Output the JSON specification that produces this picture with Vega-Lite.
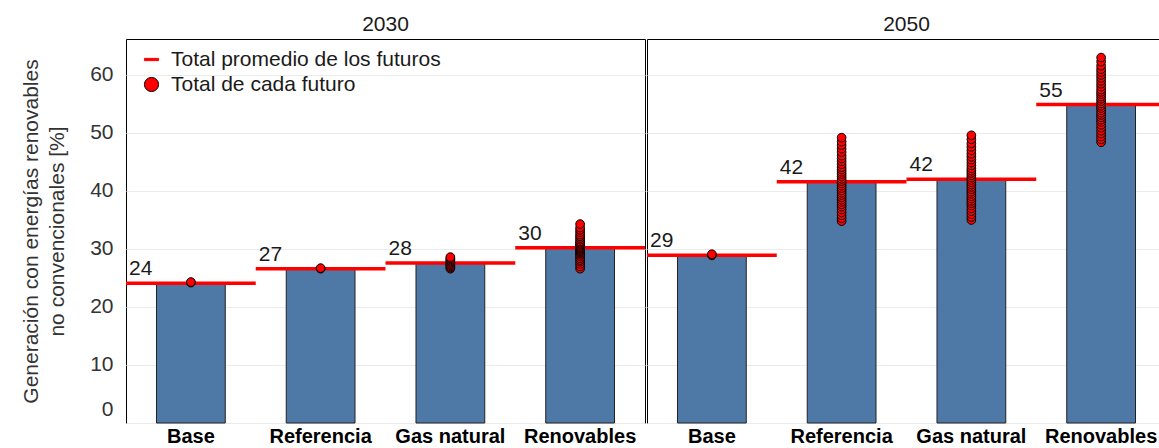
{
  "$schema": "https://vega.github.io/schema/vega-lite/v6.json",
  "padding": {"left": 20, "top": 14, "right": -6, "bottom": 0},
  "background": "white",
  "data": {"values": [
    {"anio": "2030", "escenario": "Base", "tipo": "Total promedio de los futuros", "valor": 24.1},
    {"anio": "2030", "escenario": "Referencia", "tipo": "Total promedio de los futuros", "valor": 26.6},
    {"anio": "2030", "escenario": "Gas natural", "tipo": "Total promedio de los futuros", "valor": 27.6},
    {"anio": "2030", "escenario": "Renovables", "tipo": "Total promedio de los futuros", "valor": 30.2},
    {"anio": "2050", "escenario": "Base", "tipo": "Total promedio de los futuros", "valor": 28.9},
    {"anio": "2050", "escenario": "Referencia", "tipo": "Total promedio de los futuros", "valor": 41.6},
    {"anio": "2050", "escenario": "Gas natural", "tipo": "Total promedio de los futuros", "valor": 42.0},
    {"anio": "2050", "escenario": "Renovables", "tipo": "Total promedio de los futuros", "valor": 54.9},

    {"anio": "2030", "escenario": "Base", "tipo": "Total de cada futuro", "valor": 24.2},
    {"anio": "2030", "escenario": "Base", "tipo": "Total de cada futuro", "valor": 24.3},
    {"anio": "2030", "escenario": "Referencia", "tipo": "Total de cada futuro", "valor": 26.6},
    {"anio": "2030", "escenario": "Referencia", "tipo": "Total de cada futuro", "valor": 26.7},
    {"anio": "2030", "escenario": "Gas natural", "tipo": "Total de cada futuro", "valor": 26.6},
    {"anio": "2030", "escenario": "Gas natural", "tipo": "Total de cada futuro", "valor": 26.8},
    {"anio": "2030", "escenario": "Gas natural", "tipo": "Total de cada futuro", "valor": 27.0},
    {"anio": "2030", "escenario": "Gas natural", "tipo": "Total de cada futuro", "valor": 27.2},
    {"anio": "2030", "escenario": "Gas natural", "tipo": "Total de cada futuro", "valor": 27.4},
    {"anio": "2030", "escenario": "Gas natural", "tipo": "Total de cada futuro", "valor": 27.6},
    {"anio": "2030", "escenario": "Gas natural", "tipo": "Total de cada futuro", "valor": 27.8},
    {"anio": "2030", "escenario": "Gas natural", "tipo": "Total de cada futuro", "valor": 28.0},
    {"anio": "2030", "escenario": "Gas natural", "tipo": "Total de cada futuro", "valor": 28.2},
    {"anio": "2030", "escenario": "Gas natural", "tipo": "Total de cada futuro", "valor": 28.4},
    {"anio": "2030", "escenario": "Gas natural", "tipo": "Total de cada futuro", "valor": 28.6},
    {"anio": "2030", "escenario": "Renovables", "tipo": "Total de cada futuro", "valor": 26.6},
    {"anio": "2030", "escenario": "Renovables", "tipo": "Total de cada futuro", "valor": 27.0},
    {"anio": "2030", "escenario": "Renovables", "tipo": "Total de cada futuro", "valor": 27.4},
    {"anio": "2030", "escenario": "Renovables", "tipo": "Total de cada futuro", "valor": 27.8},
    {"anio": "2030", "escenario": "Renovables", "tipo": "Total de cada futuro", "valor": 28.1},
    {"anio": "2030", "escenario": "Renovables", "tipo": "Total de cada futuro", "valor": 28.4},
    {"anio": "2030", "escenario": "Renovables", "tipo": "Total de cada futuro", "valor": 28.7},
    {"anio": "2030", "escenario": "Renovables", "tipo": "Total de cada futuro", "valor": 29.0},
    {"anio": "2030", "escenario": "Renovables", "tipo": "Total de cada futuro", "valor": 29.2},
    {"anio": "2030", "escenario": "Renovables", "tipo": "Total de cada futuro", "valor": 29.4},
    {"anio": "2030", "escenario": "Renovables", "tipo": "Total de cada futuro", "valor": 29.6},
    {"anio": "2030", "escenario": "Renovables", "tipo": "Total de cada futuro", "valor": 29.8},
    {"anio": "2030", "escenario": "Renovables", "tipo": "Total de cada futuro", "valor": 30.0},
    {"anio": "2030", "escenario": "Renovables", "tipo": "Total de cada futuro", "valor": 30.1},
    {"anio": "2030", "escenario": "Renovables", "tipo": "Total de cada futuro", "valor": 30.3},
    {"anio": "2030", "escenario": "Renovables", "tipo": "Total de cada futuro", "valor": 30.5},
    {"anio": "2030", "escenario": "Renovables", "tipo": "Total de cada futuro", "valor": 30.7},
    {"anio": "2030", "escenario": "Renovables", "tipo": "Total de cada futuro", "valor": 30.9},
    {"anio": "2030", "escenario": "Renovables", "tipo": "Total de cada futuro", "valor": 31.1},
    {"anio": "2030", "escenario": "Renovables", "tipo": "Total de cada futuro", "valor": 31.3},
    {"anio": "2030", "escenario": "Renovables", "tipo": "Total de cada futuro", "valor": 31.6},
    {"anio": "2030", "escenario": "Renovables", "tipo": "Total de cada futuro", "valor": 31.9},
    {"anio": "2030", "escenario": "Renovables", "tipo": "Total de cada futuro", "valor": 32.2},
    {"anio": "2030", "escenario": "Renovables", "tipo": "Total de cada futuro", "valor": 32.5},
    {"anio": "2030", "escenario": "Renovables", "tipo": "Total de cada futuro", "valor": 32.9},
    {"anio": "2030", "escenario": "Renovables", "tipo": "Total de cada futuro", "valor": 33.3},
    {"anio": "2030", "escenario": "Renovables", "tipo": "Total de cada futuro", "valor": 33.7},
    {"anio": "2030", "escenario": "Renovables", "tipo": "Total de cada futuro", "valor": 34.3},
    {"anio": "2050", "escenario": "Base", "tipo": "Total de cada futuro", "valor": 28.9},
    {"anio": "2050", "escenario": "Base", "tipo": "Total de cada futuro", "valor": 29.1},
    {"anio": "2050", "escenario": "Referencia", "tipo": "Total de cada futuro", "valor": 34.8},
    {"anio": "2050", "escenario": "Referencia", "tipo": "Total de cada futuro", "valor": 35.3},
    {"anio": "2050", "escenario": "Referencia", "tipo": "Total de cada futuro", "valor": 35.8},
    {"anio": "2050", "escenario": "Referencia", "tipo": "Total de cada futuro", "valor": 36.3},
    {"anio": "2050", "escenario": "Referencia", "tipo": "Total de cada futuro", "valor": 36.8},
    {"anio": "2050", "escenario": "Referencia", "tipo": "Total de cada futuro", "valor": 37.3},
    {"anio": "2050", "escenario": "Referencia", "tipo": "Total de cada futuro", "valor": 37.7},
    {"anio": "2050", "escenario": "Referencia", "tipo": "Total de cada futuro", "valor": 38.1},
    {"anio": "2050", "escenario": "Referencia", "tipo": "Total de cada futuro", "valor": 38.5},
    {"anio": "2050", "escenario": "Referencia", "tipo": "Total de cada futuro", "valor": 38.9},
    {"anio": "2050", "escenario": "Referencia", "tipo": "Total de cada futuro", "valor": 39.3},
    {"anio": "2050", "escenario": "Referencia", "tipo": "Total de cada futuro", "valor": 39.7},
    {"anio": "2050", "escenario": "Referencia", "tipo": "Total de cada futuro", "valor": 40.1},
    {"anio": "2050", "escenario": "Referencia", "tipo": "Total de cada futuro", "valor": 40.5},
    {"anio": "2050", "escenario": "Referencia", "tipo": "Total de cada futuro", "valor": 40.9},
    {"anio": "2050", "escenario": "Referencia", "tipo": "Total de cada futuro", "valor": 41.3},
    {"anio": "2050", "escenario": "Referencia", "tipo": "Total de cada futuro", "valor": 41.7},
    {"anio": "2050", "escenario": "Referencia", "tipo": "Total de cada futuro", "valor": 42.1},
    {"anio": "2050", "escenario": "Referencia", "tipo": "Total de cada futuro", "valor": 42.5},
    {"anio": "2050", "escenario": "Referencia", "tipo": "Total de cada futuro", "valor": 42.9},
    {"anio": "2050", "escenario": "Referencia", "tipo": "Total de cada futuro", "valor": 43.3},
    {"anio": "2050", "escenario": "Referencia", "tipo": "Total de cada futuro", "valor": 43.7},
    {"anio": "2050", "escenario": "Referencia", "tipo": "Total de cada futuro", "valor": 44.1},
    {"anio": "2050", "escenario": "Referencia", "tipo": "Total de cada futuro", "valor": 44.6},
    {"anio": "2050", "escenario": "Referencia", "tipo": "Total de cada futuro", "valor": 45.1},
    {"anio": "2050", "escenario": "Referencia", "tipo": "Total de cada futuro", "valor": 45.6},
    {"anio": "2050", "escenario": "Referencia", "tipo": "Total de cada futuro", "valor": 46.1},
    {"anio": "2050", "escenario": "Referencia", "tipo": "Total de cada futuro", "valor": 46.7},
    {"anio": "2050", "escenario": "Referencia", "tipo": "Total de cada futuro", "valor": 47.3},
    {"anio": "2050", "escenario": "Referencia", "tipo": "Total de cada futuro", "valor": 47.9},
    {"anio": "2050", "escenario": "Referencia", "tipo": "Total de cada futuro", "valor": 48.5},
    {"anio": "2050", "escenario": "Referencia", "tipo": "Total de cada futuro", "valor": 49.2},
    {"anio": "2050", "escenario": "Gas natural", "tipo": "Total de cada futuro", "valor": 35.0},
    {"anio": "2050", "escenario": "Gas natural", "tipo": "Total de cada futuro", "valor": 35.5},
    {"anio": "2050", "escenario": "Gas natural", "tipo": "Total de cada futuro", "valor": 36.0},
    {"anio": "2050", "escenario": "Gas natural", "tipo": "Total de cada futuro", "valor": 36.5},
    {"anio": "2050", "escenario": "Gas natural", "tipo": "Total de cada futuro", "valor": 37.0},
    {"anio": "2050", "escenario": "Gas natural", "tipo": "Total de cada futuro", "valor": 37.5},
    {"anio": "2050", "escenario": "Gas natural", "tipo": "Total de cada futuro", "valor": 37.9},
    {"anio": "2050", "escenario": "Gas natural", "tipo": "Total de cada futuro", "valor": 38.3},
    {"anio": "2050", "escenario": "Gas natural", "tipo": "Total de cada futuro", "valor": 38.7},
    {"anio": "2050", "escenario": "Gas natural", "tipo": "Total de cada futuro", "valor": 39.1},
    {"anio": "2050", "escenario": "Gas natural", "tipo": "Total de cada futuro", "valor": 39.5},
    {"anio": "2050", "escenario": "Gas natural", "tipo": "Total de cada futuro", "valor": 39.9},
    {"anio": "2050", "escenario": "Gas natural", "tipo": "Total de cada futuro", "valor": 40.3},
    {"anio": "2050", "escenario": "Gas natural", "tipo": "Total de cada futuro", "valor": 40.7},
    {"anio": "2050", "escenario": "Gas natural", "tipo": "Total de cada futuro", "valor": 41.1},
    {"anio": "2050", "escenario": "Gas natural", "tipo": "Total de cada futuro", "valor": 41.5},
    {"anio": "2050", "escenario": "Gas natural", "tipo": "Total de cada futuro", "valor": 41.9},
    {"anio": "2050", "escenario": "Gas natural", "tipo": "Total de cada futuro", "valor": 42.3},
    {"anio": "2050", "escenario": "Gas natural", "tipo": "Total de cada futuro", "valor": 42.7},
    {"anio": "2050", "escenario": "Gas natural", "tipo": "Total de cada futuro", "valor": 43.1},
    {"anio": "2050", "escenario": "Gas natural", "tipo": "Total de cada futuro", "valor": 43.5},
    {"anio": "2050", "escenario": "Gas natural", "tipo": "Total de cada futuro", "valor": 43.9},
    {"anio": "2050", "escenario": "Gas natural", "tipo": "Total de cada futuro", "valor": 44.4},
    {"anio": "2050", "escenario": "Gas natural", "tipo": "Total de cada futuro", "valor": 44.9},
    {"anio": "2050", "escenario": "Gas natural", "tipo": "Total de cada futuro", "valor": 45.4},
    {"anio": "2050", "escenario": "Gas natural", "tipo": "Total de cada futuro", "valor": 45.9},
    {"anio": "2050", "escenario": "Gas natural", "tipo": "Total de cada futuro", "valor": 46.4},
    {"anio": "2050", "escenario": "Gas natural", "tipo": "Total de cada futuro", "valor": 47.0},
    {"anio": "2050", "escenario": "Gas natural", "tipo": "Total de cada futuro", "valor": 47.6},
    {"anio": "2050", "escenario": "Gas natural", "tipo": "Total de cada futuro", "valor": 48.2},
    {"anio": "2050", "escenario": "Gas natural", "tipo": "Total de cada futuro", "valor": 48.9},
    {"anio": "2050", "escenario": "Gas natural", "tipo": "Total de cada futuro", "valor": 49.6},
    {"anio": "2050", "escenario": "Renovables", "tipo": "Total de cada futuro", "valor": 48.4},
    {"anio": "2050", "escenario": "Renovables", "tipo": "Total de cada futuro", "valor": 48.9},
    {"anio": "2050", "escenario": "Renovables", "tipo": "Total de cada futuro", "valor": 49.4},
    {"anio": "2050", "escenario": "Renovables", "tipo": "Total de cada futuro", "valor": 49.9},
    {"anio": "2050", "escenario": "Renovables", "tipo": "Total de cada futuro", "valor": 50.4},
    {"anio": "2050", "escenario": "Renovables", "tipo": "Total de cada futuro", "valor": 50.9},
    {"anio": "2050", "escenario": "Renovables", "tipo": "Total de cada futuro", "valor": 51.4},
    {"anio": "2050", "escenario": "Renovables", "tipo": "Total de cada futuro", "valor": 51.9},
    {"anio": "2050", "escenario": "Renovables", "tipo": "Total de cada futuro", "valor": 52.3},
    {"anio": "2050", "escenario": "Renovables", "tipo": "Total de cada futuro", "valor": 52.7},
    {"anio": "2050", "escenario": "Renovables", "tipo": "Total de cada futuro", "valor": 53.1},
    {"anio": "2050", "escenario": "Renovables", "tipo": "Total de cada futuro", "valor": 53.5},
    {"anio": "2050", "escenario": "Renovables", "tipo": "Total de cada futuro", "valor": 53.9},
    {"anio": "2050", "escenario": "Renovables", "tipo": "Total de cada futuro", "valor": 54.3},
    {"anio": "2050", "escenario": "Renovables", "tipo": "Total de cada futuro", "valor": 54.7},
    {"anio": "2050", "escenario": "Renovables", "tipo": "Total de cada futuro", "valor": 55.1},
    {"anio": "2050", "escenario": "Renovables", "tipo": "Total de cada futuro", "valor": 55.5},
    {"anio": "2050", "escenario": "Renovables", "tipo": "Total de cada futuro", "valor": 55.9},
    {"anio": "2050", "escenario": "Renovables", "tipo": "Total de cada futuro", "valor": 56.3},
    {"anio": "2050", "escenario": "Renovables", "tipo": "Total de cada futuro", "valor": 56.7},
    {"anio": "2050", "escenario": "Renovables", "tipo": "Total de cada futuro", "valor": 57.1},
    {"anio": "2050", "escenario": "Renovables", "tipo": "Total de cada futuro", "valor": 57.5},
    {"anio": "2050", "escenario": "Renovables", "tipo": "Total de cada futuro", "valor": 58.0},
    {"anio": "2050", "escenario": "Renovables", "tipo": "Total de cada futuro", "valor": 58.5},
    {"anio": "2050", "escenario": "Renovables", "tipo": "Total de cada futuro", "valor": 59.0},
    {"anio": "2050", "escenario": "Renovables", "tipo": "Total de cada futuro", "valor": 59.5},
    {"anio": "2050", "escenario": "Renovables", "tipo": "Total de cada futuro", "valor": 60.0},
    {"anio": "2050", "escenario": "Renovables", "tipo": "Total de cada futuro", "valor": 60.5},
    {"anio": "2050", "escenario": "Renovables", "tipo": "Total de cada futuro", "valor": 61.0},
    {"anio": "2050", "escenario": "Renovables", "tipo": "Total de cada futuro", "valor": 61.6},
    {"anio": "2050", "escenario": "Renovables", "tipo": "Total de cada futuro", "valor": 62.3},
    {"anio": "2050", "escenario": "Renovables", "tipo": "Total de cada futuro", "valor": 63.0}
  ]},
  "facet": {
    "column": {
      "field": "anio",
      "type": "nominal",
      "title": null,
      "header": {
        "labelFont": "Liberation Sans",
        "labelFontSize": 21,
        "labelColor": "#1a1a1a",
        "labelPadding": 3
      }
    }
  },
  "spacing": 0,
  "resolve": {"scale": {"x": "independent"}},
  "spec": {
    "width": 519,
    "height": 384,
    "encoding": {
      "x": {
        "field": "escenario",
        "type": "nominal",
        "sort": ["Base", "Referencia", "Gas natural", "Renovables"],
        "scale": {"paddingInner": 0, "paddingOuter": 0},
        "axis": {
          "title": null,
          "labelAngle": 0,
          "labelFont": "Liberation Sans",
          "labelFontSize": 20,
          "labelFontWeight": "bold",
          "labelColor": "#000000",
          "labelPadding": 3,
          "labelLimit": 300,
          "ticks": false,
          "domain": false,
          "grid": false
        }
      },
      "y": {
        "type": "quantitative",
        "scale": {"domain": [0, 66.2], "nice": false},
        "axis": {
          "title": ["Generación con energías renovables", "no convencionales [%]"],
          "titleFont": "Liberation Sans",
          "titleFontSize": 21,
          "titleFontWeight": "normal",
          "titleColor": "#333333",
          "titleLineHeight": 26,
          "titlePadding": 22,
          "values": [0, 10, 20, 30, 40, 50, 60],
          "labelFont": "Liberation Sans",
          "labelFontSize": 21,
          "labelColor": "#333333",
          "labelPadding": 12,
          "labelFlush": true,
          "labelFlushOffset": -4,
          "ticks": false,
          "domain": false,
          "grid": true,
          "gridColor": "#ebebeb",
          "gridWidth": 1
        }
      }
    },
    "layer": [
      {
        "transform": [{"filter": "datum.tipo === 'Total promedio de los futuros'"}],
        "mark": {"type": "bar", "width": {"band": 0.53}, "color": "#4E79A7", "stroke": "#222222", "strokeWidth": 1},
        "encoding": {"y": {"field": "valor", "type": "quantitative"}}
      },
      {
        "transform": [{"filter": "datum.tipo === 'Total promedio de los futuros'"}],
        "mark": {"type": "tick", "orient": "horizontal", "size": 129.75, "thickness": 3.5, "color": "#ff0000", "opacity": 1},
        "encoding": {"y": {"field": "valor", "type": "quantitative"}}
      },
      {
        "transform": [{"filter": "datum.tipo === 'Total de cada futuro'"}],
        "mark": {"type": "point", "filled": true, "size": 75, "strokeWidth": 1, "opacity": 1},
        "encoding": {
          "y": {"field": "valor", "type": "quantitative"},
          "color": {
            "field": "tipo",
            "type": "nominal",
            "scale": {"domain": ["Total promedio de los futuros", "Total de cada futuro"], "range": ["#ff0000", "#ff0000"]},
            "legend": {
              "title": null,
              "orient": "none",
              "legendX": 15,
              "legendY": 10,
              "labelFont": "Liberation Sans",
              "labelFontSize": 21,
              "labelColor": "#1a1a1a",
              "labelOffset": 9,
              "labelLimit": 500,
              "symbolSize": 200,
              "symbolStrokeWidth": 1,
              "rowPadding": 3
            }
          },
          "shape": {
            "field": "tipo",
            "type": "nominal",
            "scale": {"domain": ["Total promedio de los futuros", "Total de cada futuro"], "range": ["M-1,-0.16H1V0.16H-1Z", "circle"]},
            "legend": {
              "title": null,
              "orient": "none",
              "legendX": 15,
              "legendY": 10,
              "labelFont": "Liberation Sans",
              "labelFontSize": 21,
              "labelColor": "#1a1a1a",
              "labelOffset": 9,
              "labelLimit": 500,
              "symbolSize": 200,
              "symbolStrokeWidth": 1,
              "rowPadding": 3
            }
          },
          "stroke": {
            "field": "tipo",
            "type": "nominal",
            "scale": {"domain": ["Total promedio de los futuros", "Total de cada futuro"], "range": ["#ff0000", "#000000"]},
            "legend": {
              "title": null,
              "orient": "none",
              "legendX": 15,
              "legendY": 10,
              "labelFont": "Liberation Sans",
              "labelFontSize": 21,
              "labelColor": "#1a1a1a",
              "labelOffset": 9,
              "labelLimit": 500,
              "symbolSize": 200,
              "symbolStrokeWidth": 1,
              "rowPadding": 3
            }
          }
        }
      },
      {
        "transform": [{"filter": "datum.tipo === 'Total promedio de los futuros'"}],
        "mark": {"type": "text", "align": "left", "baseline": "alphabetic", "dx": 3, "dy": -8, "font": "Liberation Sans", "fontSize": 21, "color": "#1a1a1a"},
        "encoding": {
          "x": {"field": "escenario", "type": "nominal", "sort": ["Base", "Referencia", "Gas natural", "Renovables"], "bandPosition": 0},
          "y": {"field": "valor", "type": "quantitative"},
          "text": {"field": "valor", "type": "quantitative", "format": ".0f"}
        }
      }
    ]
  },
  "config": {
    "view": {"stroke": "#000000", "strokeWidth": 1},
    "font": "Liberation Sans"
  }
}
